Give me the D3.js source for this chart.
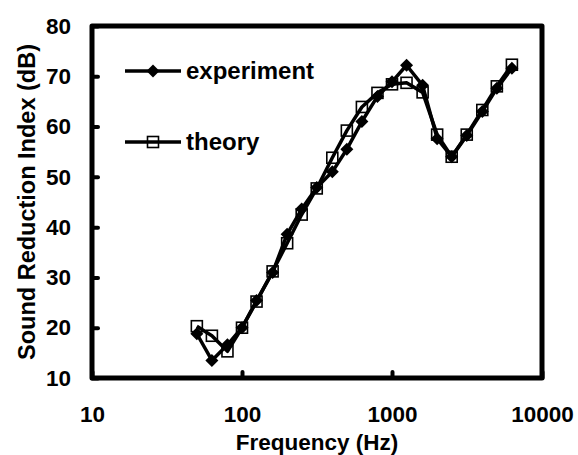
<!DOCTYPE html>
<html>
<head>
<meta charset="utf-8">
<script src="https://cdn.jsdelivr.net/npm/d3@7"></script>
<style>
  body { margin: 0; background: #fff; }
  text { font-family: "Liberation Sans", Arial, sans-serif; font-weight: bold; fill: #000; }
</style>
</head>
<body>
<div id="chart"></div>
<script>
// third-octave band centre frequencies (Hz)
var freqs = [50, 63, 80, 100, 125, 160, 200, 250, 315, 400, 500, 630, 800, 1000, 1250, 1600, 2000, 2500, 3150, 4000, 5000, 6300];
// measured sound reduction index (dB)
var experiment = [18.8, 13.5, 16.6, 20.0, 25.4, 31.0, 38.6, 43.6, 47.9, 51.0, 55.5, 61.0, 66.0, 68.9, 72.2, 68.2, 57.6, 54.0, 58.2, 63.0, 67.6, 71.6];
// predicted sound reduction index (dB)
var theory = [20.3, 18.4, 15.3, 20.0, 25.2, 31.2, 36.8, 42.5, 47.7, 53.8, 59.2, 63.9, 66.7, 68.4, 68.7, 66.8, 58.4, 54.0, 58.4, 63.3, 68.0, 72.3];
var xTicks = [10, 100, 1000, 10000];
var yTicks = [10, 20, 30, 40, 50, 60, 70, 80];

var W = 578, H = 455;
var margin = {left: 92, right: 542, top: 26, bottom: 378};

var svg = d3.select("#chart")
  .append("svg")
  .attr("width", W)
  .attr("height", H);

var x = d3.scaleLog()
  .domain([10, 10000])
  .range([margin.left, margin.right]);

var y = d3.scaleLinear()
  .domain([10, 80])
  .range([margin.bottom, margin.top]);

// X axis
var gx = svg.append("g")
  .attr("transform", "translate(0," + margin.bottom + ")")
  .call(d3.axisBottom(x).tickValues(xTicks).tickFormat(d3.format("d"))
    .tickSizeInner(-6).tickSizeOuter(0).tickPadding(28));
gx.select(".domain").remove();
gx.selectAll("line").attr("stroke", "#000").attr("stroke-width", 4).attr("stroke-linecap", "round");
gx.selectAll("text").style("font-size", "22.5px").attr("fill", "#000");

// Y axis
var gy = svg.append("g")
  .attr("transform", "translate(" + margin.left + ",0)")
  .call(d3.axisLeft(y).tickValues(yTicks)
    .tickSizeInner(-6).tickSizeOuter(0).tickPadding(21));
gy.select(".domain").remove();
gy.selectAll("line").attr("stroke", "#000").attr("stroke-width", 4).attr("stroke-linecap", "round");
gy.selectAll("text").style("font-size", "22.5px").attr("fill", "#000");

// plot frame
svg.append("rect")
  .attr("x", margin.left)
  .attr("y", margin.top)
  .attr("width", margin.right - margin.left)
  .attr("height", margin.bottom - margin.top)
  .attr("fill", "none")
  .attr("stroke", "#000")
  .attr("stroke-width", 5)
  .attr("stroke-linejoin", "round");

// axis titles
svg.append("text")
  .attr("x", 317)
  .attr("y", 450)
  .attr("text-anchor", "middle")
  .style("font-size", "22.5px")
  .text("Frequency (Hz)");

svg.append("text")
  .attr("transform", "translate(35,202)rotate(-90)")
  .attr("text-anchor", "middle")
  .style("font-size", "23.5px")
  .text("Sound Reduction Index (dB)");

var line = d3.line()
  .x(function(d) { return x(d.f); })
  .y(function(d) { return y(d.v); });

var expData = freqs.map(function(f, i) { return {f: f, v: experiment[i]}; });
var thData = freqs.map(function(f, i) { return {f: f, v: theory[i]}; });

var diamond = "M0,-6.5L6.5,0L0,6.5L-6.5,0Z";

// theory series
svg.append("path")
  .datum(thData)
  .attr("d", line)
  .attr("fill", "none")
  .attr("stroke", "#000")
  .attr("stroke-width", 3.5)
  .attr("stroke-linejoin", "round");

svg.selectAll(".sq")
  .data(thData)
  .enter()
  .append("rect")
  .attr("class", "sq")
  .attr("x", function(d) { return x(d.f) - 5.5; })
  .attr("y", function(d) { return y(d.v) - 5.5; })
  .attr("width", 11)
  .attr("height", 11)
  .attr("fill", "none")
  .attr("stroke", "#000")
  .attr("stroke-width", 1.6);

// experiment series
svg.append("path")
  .datum(expData)
  .attr("d", line)
  .attr("fill", "none")
  .attr("stroke", "#000")
  .attr("stroke-width", 3.5)
  .attr("stroke-linejoin", "round");

svg.selectAll(".dm")
  .data(expData)
  .enter()
  .append("path")
  .attr("class", "dm")
  .attr("transform", function(d) { return "translate(" + x(d.f) + "," + y(d.v) + ")"; })
  .attr("d", diamond)
  .attr("fill", "#000");

// legend
var legend = [
  {name: "experiment", y: 71, type: "diamond"},
  {name: "theory", y: 142, type: "square"}
];
legend.forEach(function(l) {
  svg.append("line")
    .attr("x1", 125).attr("x2", 181)
    .attr("y1", l.y).attr("y2", l.y)
    .attr("stroke", "#000")
    .attr("stroke-width", 3.5);
  if (l.type == "diamond") {
    svg.append("path")
      .attr("transform", "translate(153," + l.y + ")")
      .attr("d", diamond)
      .attr("fill", "#000");
  } else {
    svg.append("rect")
      .attr("x", 147.5).attr("y", l.y - 5.5)
      .attr("width", 11).attr("height", 11)
      .attr("fill", "none")
      .attr("stroke", "#000")
      .attr("stroke-width", 1.6);
  }
  svg.append("text")
    .attr("x", 186)
    .attr("y", l.y + 8)
    .style("font-size", "24px")
    .text(l.name);
});
</script>
</body>
</html>
